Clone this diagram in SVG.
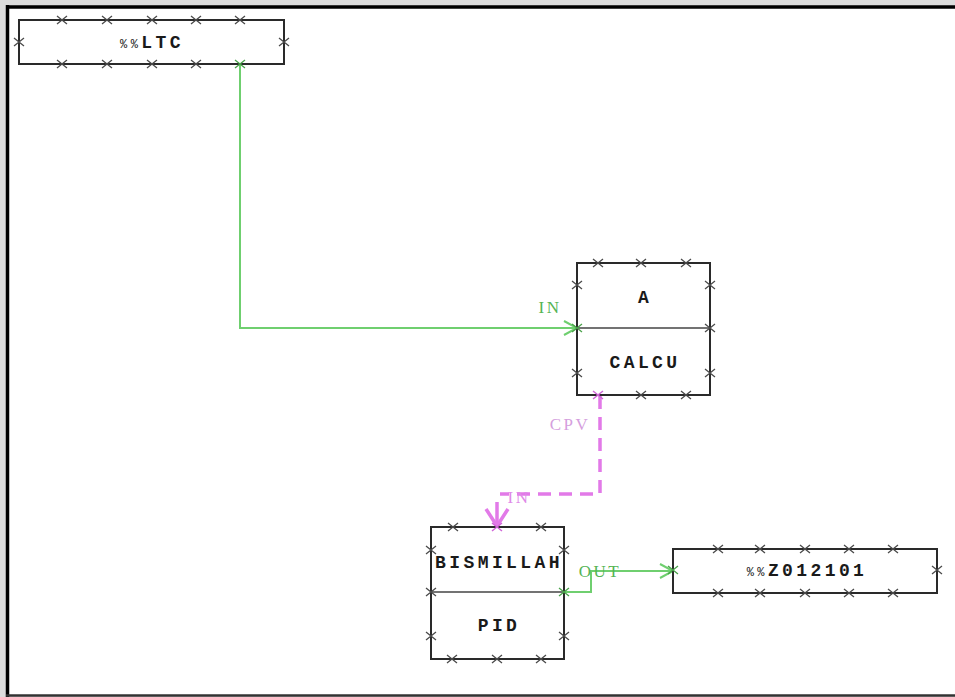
<svg xmlns="http://www.w3.org/2000/svg" xmlns:xlink="http://www.w3.org/1999/xlink" width="955" height="697" viewBox="0 0 955 697">
<style>
.box{fill:#fff;stroke:#2a2a2a;stroke-width:2}
.div{stroke:#444;stroke-width:1.6}
.t{font-family:"Liberation Mono",monospace;font-weight:bold;font-size:18px;letter-spacing:3.4px;fill:#1a1a1a;text-anchor:middle}
.lbl{font-family:"Liberation Serif",serif;font-size:17px;letter-spacing:2.5px;text-anchor:middle}
.g{stroke:#6fcf6f;stroke-width:2;fill:none}
.p{stroke:#e27ae8;stroke-width:3.5;fill:none}
.xm{stroke:#4a4a4a;stroke-width:1.3;fill:none}
</style>
<defs>
<path id="x" class="xm" d="M-5,-4 L5,4 M-5,4 L5,-4"/>
<path id="xg" d="M-5,-4 L5,4 M-5,4 L5,-4" stroke="#4aa24a" stroke-width="1.3" fill="none"/>
<path id="xp" d="M-5,-4 L5,4 M-5,4 L5,-4" stroke="#d066d8" stroke-width="1.5" fill="none"/>
</defs>
<rect x="0" y="0" width="955" height="697" fill="#dcdcdc"/>
<rect x="7" y="7" width="948" height="688" fill="#ffffff"/>
<line x1="7.5" y1="5" x2="7.5" y2="697" stroke="#000" stroke-width="3.5"/>
<line x1="6" y1="7" x2="955" y2="7" stroke="#000" stroke-width="3.5"/>
<line x1="6" y1="695.5" x2="955" y2="695.5" stroke="#333" stroke-width="2.5"/>

<g id="connectors">
<g id="c-ltc-a">
<polyline class="g" points="240,64 240,328 576,328"/>
<polyline class="g" points="564,321 577,328 564,335"/>
<text class="lbl" x="550" y="313" fill="#55b455">IN</text>
</g>
<g id="c-calcu-pid">
<polyline class="p" points="600,396 600,494 500,494" stroke-dasharray="13,8"/>
<line class="p" x1="497" y1="502" x2="497" y2="525"/>
<polyline class="p" points="486,509 497,526 508,509"/>
<text class="lbl" x="570" y="430" fill="#d59fde">CPV</text>
<text class="lbl" x="519" y="503" fill="#e08ae8">IN</text>
</g>
<g id="c-pid-z">
<polyline class="g" points="564,592 591,592 591,571 672,571"/>
<polyline class="g" points="660,564 673,571 660,578"/>
<text class="lbl" x="600" y="577" fill="#55b455">OUT</text>
</g>
</g>

<g id="n-ltc">
<rect class="box" x="19" y="20" width="265" height="44"/>
<use href="#x" x="62" y="20"/><use href="#x" x="107" y="20"/><use href="#x" x="152" y="20"/><use href="#x" x="196" y="20"/><use href="#x" x="240" y="20"/>
<use href="#x" x="62" y="64"/><use href="#x" x="107" y="64"/><use href="#x" x="152" y="64"/><use href="#x" x="196" y="64"/><use href="#xg" x="240" y="64"/>
<use href="#x" x="19" y="42"/><use href="#x" x="284" y="42"/>
<text class="t" x="152" y="48"><tspan font-size="12px" font-weight="normal">%%</tspan>LTC</text>
</g>

<g id="n-calcu">
<rect class="box" x="577" y="263" width="133" height="132"/>
<line class="div" x1="577" y1="328" x2="710" y2="328"/>
<use href="#x" x="598" y="263"/><use href="#x" x="641" y="263"/><use href="#x" x="686" y="263"/>
<use href="#xp" x="598" y="395"/><use href="#x" x="641" y="395"/><use href="#x" x="686" y="395"/>
<use href="#x" x="577" y="285"/><use href="#xg" x="577" y="328"/><use href="#x" x="577" y="373"/>
<use href="#x" x="710" y="285"/><use href="#x" x="710" y="328"/><use href="#x" x="710" y="373"/>
<text class="t" x="645" y="303">A</text>
<text class="t" x="645" y="368">CALCU</text>
</g>

<g id="n-pid">
<rect class="box" x="431" y="527" width="133" height="132"/>
<line class="div" x1="431" y1="592" x2="564" y2="592"/>
<use href="#x" x="453" y="527"/><use href="#xp" x="497" y="527"/><use href="#x" x="541" y="527"/>
<use href="#x" x="452" y="659"/><use href="#x" x="497" y="659"/><use href="#x" x="541" y="659"/>
<use href="#x" x="431" y="550"/><use href="#x" x="431" y="592"/><use href="#x" x="431" y="636"/>
<use href="#x" x="564" y="550"/><use href="#xg" x="564" y="592"/><use href="#x" x="564" y="636"/>
<text class="t" x="499" y="568">BISMILLAH</text>
<text class="t" x="499" y="631">PID</text>
</g>

<g id="n-z012101">
<rect class="box" x="673" y="549" width="264" height="44"/>
<use href="#x" x="718" y="549"/><use href="#x" x="760" y="549"/><use href="#x" x="805" y="549"/><use href="#x" x="849" y="549"/><use href="#x" x="893" y="549"/>
<use href="#x" x="718" y="593"/><use href="#x" x="760" y="593"/><use href="#x" x="805" y="593"/><use href="#x" x="849" y="593"/><use href="#x" x="893" y="593"/>
<use href="#xg" x="673" y="570"/><use href="#x" x="937" y="570"/>
<text class="t" x="807" y="576"><tspan font-size="12px" font-weight="normal">%%</tspan>Z012101</text>
</g>
</svg>
